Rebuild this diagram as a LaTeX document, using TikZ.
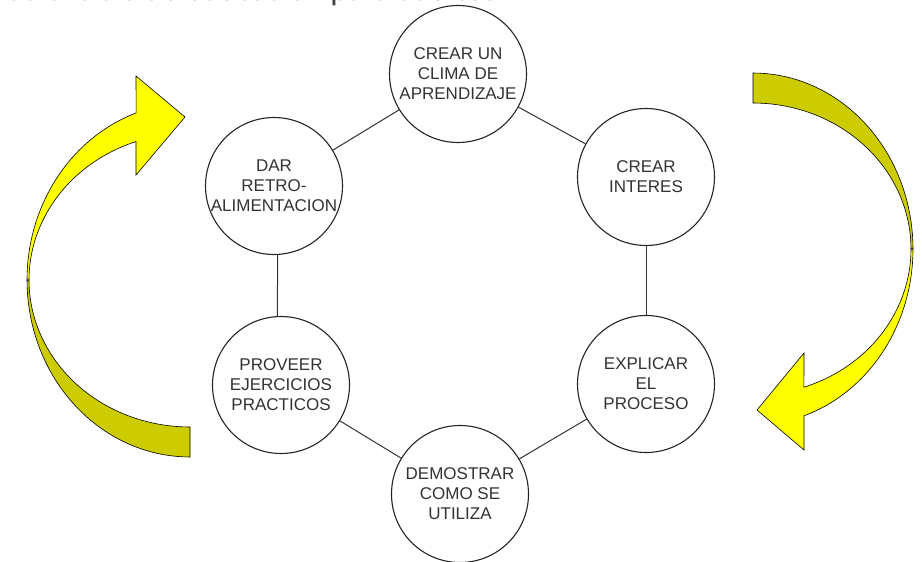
\documentclass[tikz,border=0pt]{standalone}
\usepackage{fontspec}
\setmainfont{Liberation Sans}
\newfontfamily\captionfont{Carlito}
\usetikzlibrary{positioning}
\definecolor{bandlight}{HTML}{FFFF00}
\definecolor{banddark}{HTML}{CCCC00}
\definecolor{inktext}{HTML}{333333}

\begin{document}
\begin{tikzpicture}[x=1pt,y=-1pt,
  stage/.style={circle,draw=black!85,line width=1.1pt,fill=white,
                minimum size=137pt,inner sep=0pt,align=center,
                text=inktext,font=\fontsize{17}{20}\selectfont},
  link/.style={draw=black!80,line width=1pt},
  bandfront/.style={draw=black,line width=0.6pt,fill=bandlight},
  bandback/.style={draw=black,line width=0.6pt,fill=banddark},
  toptext/.style={text=black!75,font=\captionfont\fontsize{33}{36}\selectfont,inner sep=0pt}
]
  \useasboundingbox (0,0) rectangle (922,562);

  % clipped caption line at the top
  \node[toptext,anchor=base east] (caption) at (497,0.5)
    {describe el ciclo de educación para adultos};

  % left curved arrow
  \draw[bandback]
    plot[domain=90:180,samples=40,variable=\t] ({190+163*cos(\t)},{280+177*sin(\t)})
    -- plot[domain=180:90,samples=40,variable=\t] ({190+161*cos(\t)},{280+147*sin(\t)})
    -- cycle;
  \draw[bandfront]
    plot[domain=180:250.7,samples=40,variable=\t] ({190+163*cos(\t)},{280+177*sin(\t)})
    -- (136,76) -- (185,117) -- (136,175)
    -- plot[domain=250.4:180,samples=40,variable=\t] ({190+161*cos(\t)},{280+147*sin(\t)})
    -- cycle;

  % right curved arrow
  \draw[bandback]
    plot[domain=-90:0,samples=40,variable=\t] ({753+160*cos(\t)},{249+176*sin(\t)})
    -- plot[domain=0:-90,samples=40,variable=\t] ({753+158*cos(\t)},{249+146*sin(\t)})
    -- cycle;
  \draw[bandfront]
    plot[domain=0:71.4,samples=40,variable=\t] ({753+160*cos(\t)},{249+176*sin(\t)})
    -- (804,450) -- (757,410) -- (804,353)
    -- plot[domain=71.2:0,samples=40,variable=\t] ({753+158*cos(\t)},{249+146*sin(\t)})
    -- cycle;

  % the six stages
  \node[stage] (clima) at (458,74) {CREAR UN\\CLIMA DE\\APRENDIZAJE};
  \node[stage] (interes) at (646,177) {CREAR\\INTERES};
  \node[stage] (explicar) at (646,384) {EXPLICAR\\EL\\PROCESO};
  \node[stage] (demostrar) at (460,494) {DEMOSTRAR\\COMO SE\\UTILIZA};
  \node[stage] (proveer) at (281,385) {PROVEER\\EJERCICIOS\\PRACTICOS};
  \node[stage] (retro) at (274,186) {DAR\\RETRO-\\ALIMENTACION};

  \draw[link] (clima) -- (interes);
  \draw[link] (interes) -- (explicar);
  \draw[link] (explicar) -- (demostrar);
  \draw[link] (demostrar) -- (proveer);
  \draw[link] (proveer.93) -- (retro.-87);
  \draw[link] (retro) -- (clima);
\end{tikzpicture}
\end{document}
